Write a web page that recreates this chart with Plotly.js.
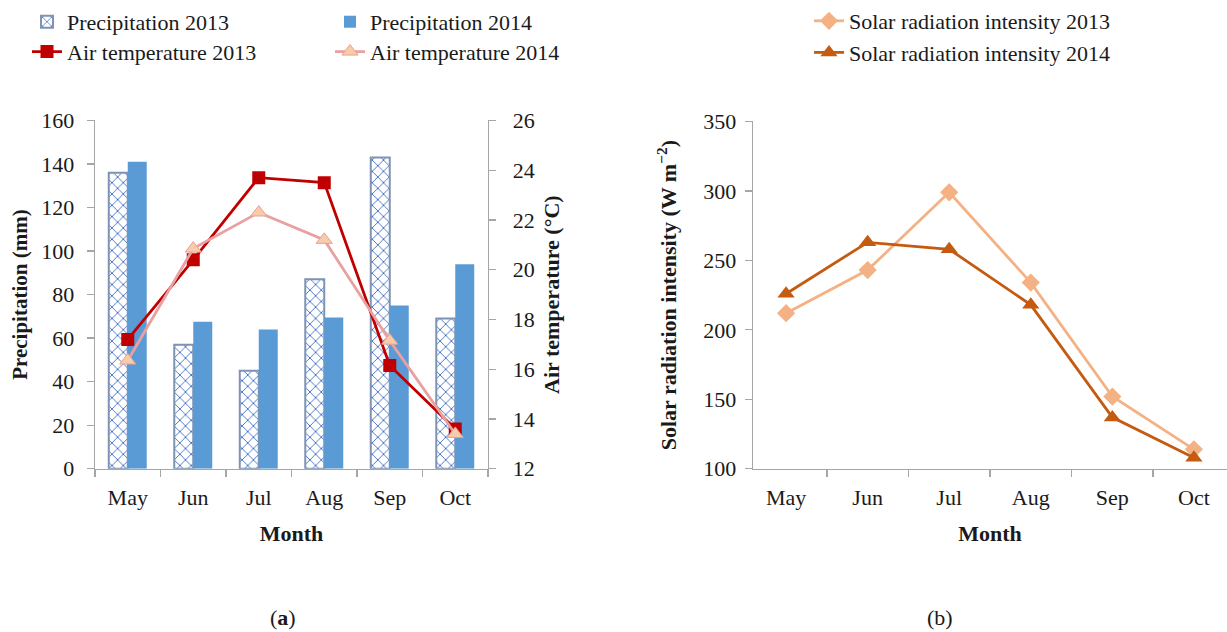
<!DOCTYPE html>
<html>
<head>
<meta charset="utf-8">
<script src="https://cdn.plot.ly/plotly-3.0.1.min.js"></script>
<style>html,body{margin:0;padding:0;background:#fff;}#chart{width:1227px;height:632px;}</style>
</head>
<body>
<div id="chart"></div>
<script>
const months = ['May', 'Jun', 'Jul', 'Aug', 'Sep', 'Oct'];
const precip2013 = [136, 57, 45, 87, 143, 69];
const precip2014 = [141, 67.5, 64, 69.5, 75, 94];
const temp2013 = [17.2, 20.4, 23.7, 23.5, 16.15, 13.6];
const temp2014 = [16.35, 20.85, 22.3, 21.2, 17.15, 13.4];
const solar2013 = [212, 243, 299, 234, 152, 114];
const solar2014 = [226, 263, 258, 218, 137, 108];

const FONT = 'Liberation Serif, Times New Roman, serif';
const TXT = '#1a1a1a';
const AX = '#A6A6A6';
const W = 1227, H = 632;
const px = v => v / W;
const py = v => 1 - v / H;

const traces = [
  {type: 'bar', name: 'Precipitation 2013', x: months, y: precip2013, xaxis: 'x', yaxis: 'y',
   marker: {color: 'white', line: {color: '#7F93B5', width: 2},
            pattern: {shape: 'x', fgcolor: '#4472C4', bgcolor: 'white', size: 8, solidity: 0.22}},
   legend: 'legend'},
  {type: 'bar', name: 'Precipitation 2014', x: months, y: precip2014, xaxis: 'x', yaxis: 'y',
   marker: {color: '#5B9BD5'}, legend: 'legend'},
  {type: 'scatter', mode: 'lines+markers', name: 'Air temperature 2013', x: months, y: temp2013,
   xaxis: 'x', yaxis: 'y2', line: {color: '#C00000', width: 2.8},
   marker: {symbol: 'square', size: 13, color: '#C00000'}, legend: 'legend2'},
  {type: 'scatter', mode: 'lines+markers', name: 'Air temperature 2014', x: months, y: temp2014,
   xaxis: 'x', yaxis: 'y2', line: {color: '#E8A0A0', width: 2.8},
   marker: {symbol: 'triangle-up', size: 14, color: '#F8CBAD', line: {color: '#E8A090', width: 1}},
   legend: 'legend2'},
  {type: 'scatter', mode: 'lines+markers', name: 'Solar radiation intensity 2013', x: months, y: solar2013,
   xaxis: 'x2', yaxis: 'y3', line: {color: '#F4B183', width: 2.8},
   marker: {symbol: 'diamond', size: 14, color: '#F4B183'}, legend: 'legend3'},
  {type: 'scatter', mode: 'lines+markers', name: 'Solar radiation intensity 2014', x: months, y: solar2014,
   xaxis: 'x2', yaxis: 'y3', line: {color: '#C55A11', width: 2.8},
   marker: {symbol: 'triangle-up', size: 15, color: '#C55A11'}, legend: 'legend3'}
];

const axBase = {showgrid: false, zeroline: false, showline: true, linecolor: AX, linewidth: 1.3,
  ticks: 'outside', tickcolor: AX, ticklen: 7, tickwidth: 1.3,
  tickfont: {family: FONT, size: 22, color: TXT}, automargin: false};

const layout = {
  width: W, height: H,
  margin: {l: 0, r: 0, t: 0, b: 0},
  paper_bgcolor: 'white', plot_bgcolor: 'rgba(0,0,0,0)',
  font: {family: FONT, size: 22, color: TXT},
  barmode: 'group', bargap: 0.42, bargroupgap: 0,
  xaxis: Object.assign({}, axBase, {domain: [px(95), px(488)], anchor: 'y', tickson: 'boundaries',
    ticklabelstandoff: 9,
    title: {text: '<b>Month</b>', font: {family: FONT, size: 22, color: TXT}, standoff: 16}}),
  yaxis: Object.assign({}, axBase, {domain: [py(468), py(118)], anchor: 'x', range: [0, 160], dtick: 20,
    ticklabelstandoff: 8,
    title: {text: '<b>Precipitation (mm)</b>', font: {family: FONT, size: 21, color: TXT}, standoff: 8}}),
  yaxis2: Object.assign({}, axBase, {overlaying: 'y', side: 'right', anchor: 'x', range: [12, 26], dtick: 2,
    ticklabelstandoff: 12,
    title: {text: '<b>Air temperature (°C)</b>', font: {family: FONT, size: 22, color: TXT}, standoff: 10}}),
  xaxis2: Object.assign({}, axBase, {domain: [px(753), 1], anchor: 'y3', tickson: 'boundaries',
    ticklabelstandoff: 9,
    title: {text: '<b>Month</b>', font: {family: FONT, size: 22, color: TXT}, standoff: 16}}),
  yaxis3: Object.assign({}, axBase, {domain: [py(468), py(119)], anchor: 'x2', range: [100, 350], dtick: 50,
    ticklabelstandoff: 4,
    title: {text: '<b>Solar radiation intensity (W m<sup>−2</sup>)</b>', font: {family: FONT, size: 22, color: TXT}, standoff: 20}}),
  showlegend: true,
  legend: {orientation: 'h', x: px(27), xanchor: 'left', y: py(19), yanchor: 'middle',
    entrywidth: 258, entrywidthmode: 'pixels', bgcolor: 'rgba(0,0,0,0)',
    font: {family: FONT, size: 22, color: TXT}},
  legend2: {orientation: 'h', x: px(27), xanchor: 'left', y: py(49), yanchor: 'middle',
    entrywidth: 258, entrywidthmode: 'pixels', bgcolor: 'rgba(0,0,0,0)',
    font: {family: FONT, size: 22, color: TXT}},
  legend3: {orientation: 'v', x: px(809), xanchor: 'left', y: py(34), yanchor: 'middle',
    bgcolor: 'rgba(0,0,0,0)', tracegroupgap: 0,
    font: {family: FONT, size: 22, color: TXT}},
  annotations: [
    {text: '(<b>a</b>)', xref: 'paper', yref: 'paper', x: px(283), y: py(617), showarrow: false,
     xanchor: 'center', yanchor: 'middle', font: {family: FONT, size: 22, color: TXT}},
    {text: '(b)', xref: 'paper', yref: 'paper', x: px(940), y: py(617), showarrow: false,
     xanchor: 'center', yanchor: 'middle', font: {family: FONT, size: 22, color: TXT}}
  ]
};

Plotly.newPlot('chart', traces, layout, {staticPlot: true, displayModeBar: false});
</script>
</body>
</html>
